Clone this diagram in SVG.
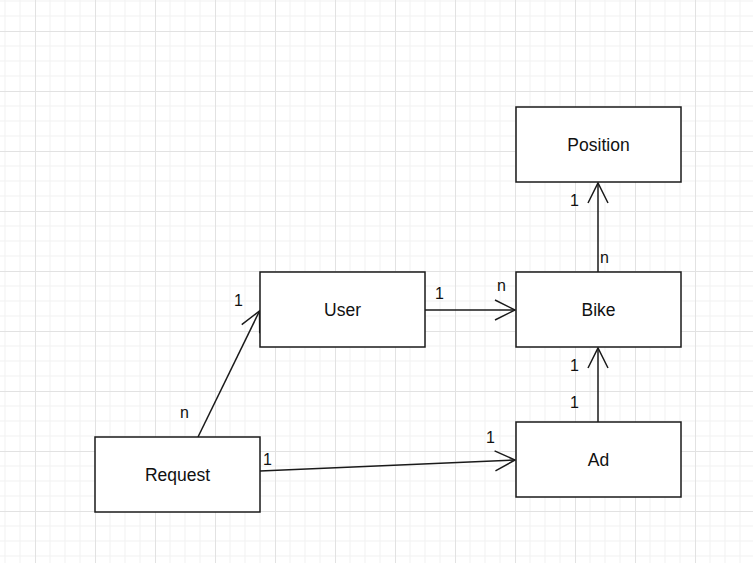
<svg xmlns="http://www.w3.org/2000/svg" width="753" height="563" viewBox="0 0 753 563">
  <style>
    .box { fill: #ffffff; stroke: #1a1a1a; stroke-width: 1.5; }
    .name { font-family: "Liberation Sans", Arial, sans-serif; font-size: 17.5px; fill: #111; text-anchor: middle; }
    .card { font-family: "Liberation Sans", Arial, sans-serif; font-size: 16px; fill: #111; }
    .link { fill: none; stroke: #1a1a1a; stroke-width: 1.5; marker-end: url(#open); }
  </style>
  <defs>
    <pattern id="grid" x="35" y="31" width="60" height="60" patternUnits="userSpaceOnUse">
      <path d="M15 0V60M30 0V60M45 0V60M0 15H60M0 30H60M0 45H60" stroke="#f1f1f1" stroke-width="1" fill="none"/>
      <path d="M0.5 0V60M0 0.5H60" stroke="#e2e2e2" stroke-width="1" fill="none"/>
    </pattern>
    <marker id="open" markerUnits="userSpaceOnUse" markerWidth="24" markerHeight="24" viewBox="-22 -12 24 24" refX="0" refY="0" orient="auto">
      <path d="M-20 -10L0 0L-20 10" fill="none" stroke="#1a1a1a" stroke-width="1.5"/>
    </marker>
  </defs>

  <rect width="753" height="563" fill="#ffffff"/>
  <rect width="753" height="563" fill="url(#grid)"/>

  <g id="connectors">
    <path class="link" d="M198 437L259.5 311"/>
    <path class="link" d="M425 310L515 310"/>
    <path class="link" d="M260 471L515 460"/>
    <path class="link" d="M598 272L598 183"/>
    <path class="link" d="M598 422L598 348"/>
    <text class="card" x="234" y="306">1</text>
    <text class="card" x="180" y="418">n</text>
    <text class="card" x="435" y="299">1</text>
    <text class="card" x="497" y="291">n</text>
    <text class="card" x="263" y="465">1</text>
    <text class="card" x="486" y="443">1</text>
    <text class="card" x="570" y="206">1</text>
    <text class="card" x="600" y="263">n</text>
    <text class="card" x="570" y="371">1</text>
    <text class="card" x="570" y="408">1</text>
  </g>

  <g id="position">
    <rect class="box" x="516" y="107" width="165" height="75"/>
    <text class="name" x="598.5" y="151">Position</text>
  </g>
  <g id="bike">
    <rect class="box" x="516" y="272" width="165" height="75"/>
    <text class="name" x="598.5" y="316">Bike</text>
  </g>
  <g id="user">
    <rect class="box" x="260" y="272" width="165" height="75"/>
    <text class="name" x="342.5" y="316">User</text>
  </g>
  <g id="ad">
    <rect class="box" x="516" y="422" width="165" height="75"/>
    <text class="name" x="598.5" y="466">Ad</text>
  </g>
  <g id="request">
    <rect class="box" x="95" y="437" width="165" height="75"/>
    <text class="name" x="177.5" y="481">Request</text>
  </g>
</svg>
